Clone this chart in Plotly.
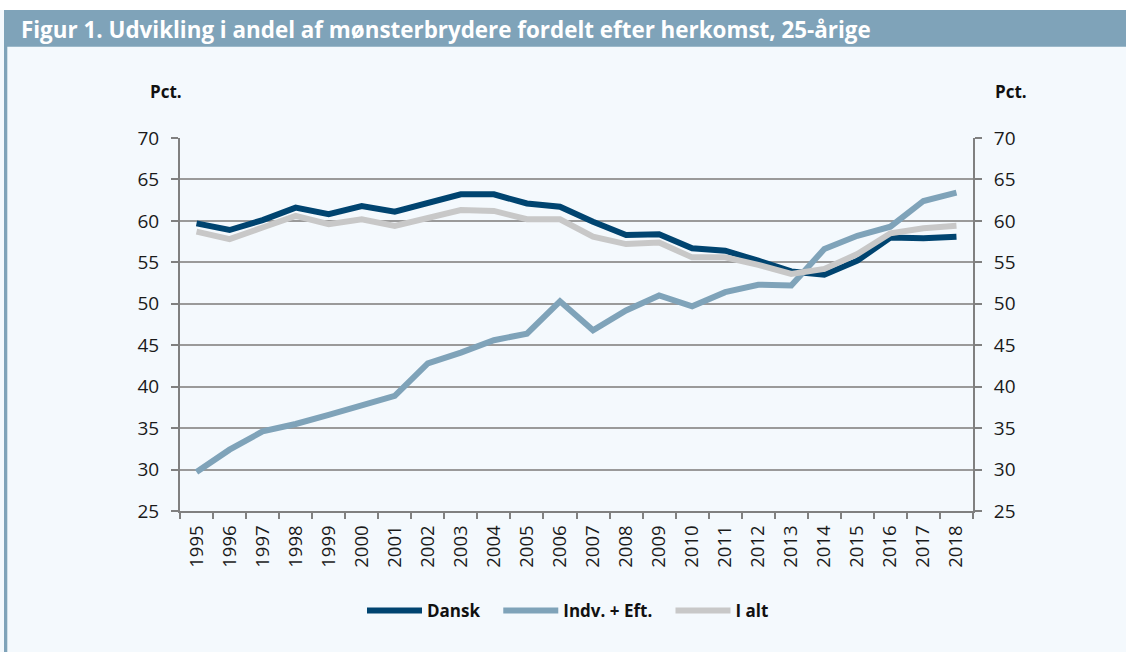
import plotly.graph_objects as go

years = [str(y) for y in range(1995, 2019)]
dansk = [59.7, 58.9, 60.1, 61.6, 60.8, 61.8, 61.1, 62.1, 63.2, 63.2, 62.1, 61.7,
         59.9, 58.3, 58.4, 56.7, 56.4, 55.2, 53.9, 53.5, 55.2, 58.0, 57.9, 58.1]
indv = [29.7, 32.4, 34.6, 35.5, 36.6, 37.8, 38.9, 42.8, 44.1, 45.6, 46.4, 50.3,
        46.8, 49.2, 51.0, 49.7, 51.4, 52.3, 52.2, 56.6, 58.2, 59.3, 62.4, 63.4]
ialt = [58.7, 57.8, 59.2, 60.6, 59.6, 60.2, 59.4, 60.4, 61.3, 61.2, 60.2, 60.2,
        58.1, 57.2, 57.4, 55.6, 55.6, 54.7, 53.6, 54.2, 56.0, 58.5, 59.1, 59.4]
series_names = ["Dansk", "Indv. + Eft.", "I alt"]
series_colors = ["#004470", "#7FA3B9", "#C8C8C8"]
y_ticks = [25, 30, 35, 40, 45, 50, 55, 60, 65, 70]

W, H = 1126, 652
L, R, T, B = 180, 973, 138, 511
FONT = "Open Sans"
PAD = "\u00a0\u00a0\u00a0"

def px_x(px):
    return (px - L) / (R - L)

def px_y(py):
    return (B - py) / (B - T)

fig = go.Figure()
for i, (name, vals, col) in enumerate(zip(series_names, [dansk, indv, ialt], series_colors)):
    label = name + (PAD if i < len(series_names) - 1 else "")
    fig.add_trace(go.Scatter(x=years, y=vals, name=label, mode="lines",
                             line=dict(color=col, width=6)))
# invisible trace to anchor the right axis
fig.add_trace(go.Scatter(x=years, y=ialt, yaxis="y2", mode="lines",
                         line=dict(color="rgba(0,0,0,0)"), showlegend=False,
                         hoverinfo="skip"))

axis_common = dict(range=[25, 70], tickvals=y_ticks, ticks="outside", ticklen=7,
                   tickcolor="#808080", tickwidth=2, showline=True, linecolor="#808080",
                   linewidth=2, tickfont=dict(family=FONT, size=19, color="#1a1a1a"),
                   ticklabelstandoff=8, zeroline=False)

fig.update_layout(
    width=W, height=H,
    margin=dict(l=L, r=W - R, t=T, b=H - B, pad=0),
    paper_bgcolor="#F4F9FD", plot_bgcolor="#F4F9FD",
    font=dict(family=FONT, color="#1a1a1a"),
    xaxis=dict(type="category", range=[-0.5, 23.5], tickson="boundaries",
               ticks="outside", ticklen=6, tickcolor="#808080", tickwidth=2,
               showline=True, linecolor="#808080", linewidth=2, showgrid=False,
               tickangle=-90, ticklabelstandoff=5,
               tickfont=dict(family=FONT, size=18.5, color="#1a1a1a")),
    yaxis=dict(**axis_common, showgrid=True, gridcolor="#9a9a9a", gridwidth=2, side="left"),
    yaxis2=dict(**axis_common, overlaying="y", side="right", showgrid=False),
    legend=dict(orientation="h", x=px_x(568), xanchor="center", y=px_y(611), yanchor="middle",
                font=dict(family=FONT, size=17, color="#111111", weight="bold"),
                itemwidth=55, bgcolor="rgba(0,0,0,0)", traceorder="normal"),
    showlegend=True,
)

shapes = [
    dict(type="rect", xref="paper", yref="paper", x0=px_x(-5), x1=px_x(W + 5),
         y0=px_y(10), y1=px_y(-5), fillcolor="white", line=dict(width=0), layer="below"),
    dict(type="rect", xref="paper", yref="paper", x0=px_x(4), x1=px_x(W + 5),
         y0=px_y(46.7), y1=px_y(10), fillcolor="#7FA3B9", line=dict(width=0), layer="below"),
    dict(type="rect", xref="paper", yref="paper", x0=px_x(4), x1=px_x(7.3),
         y0=px_y(H + 5), y1=px_y(10), fillcolor="#7FA3B9", line=dict(width=0), layer="below"),
]
fig.update_layout(shapes=shapes)

fig.add_annotation(text="Figur 1. Udvikling i andel af mønsterbrydere fordelt efter herkomst, 25-årige",
                   xref="paper", yref="paper", x=px_x(19), y=px_y(29), xanchor="left",
                   yanchor="middle", showarrow=False,
                   font=dict(family=FONT, size=22.4, color="white", weight="bold"))
fig.add_annotation(text="Pct.", xref="paper", yref="paper", x=px_x(166), y=px_y(92),
                   xanchor="center", yanchor="middle", showarrow=False,
                   font=dict(family=FONT, size=17, color="#111111", weight="bold"))
fig.add_annotation(text="Pct.", xref="paper", yref="paper", x=px_x(1011), y=px_y(92),
                   xanchor="center", yanchor="middle", showarrow=False,
                   font=dict(family=FONT, size=17, color="#111111", weight="bold"))

fig.write_html("out.html", config={"displayModeBar": False},
               post_script="document.body.style.margin='0';")
